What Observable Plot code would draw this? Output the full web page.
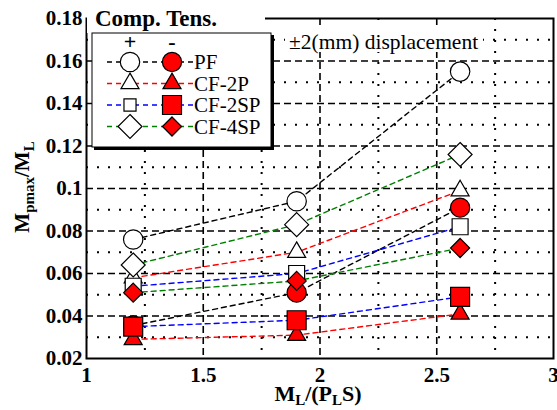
<!DOCTYPE html>
<html>
<head>
<meta charset="utf-8">
<script src="https://cdn.jsdelivr.net/npm/d3@7"></script>
<script src="https://cdn.jsdelivr.net/npm/@observablehq/plot@0.6"></script>
<style>
  body { margin: 0; background: white; }
  svg text, svg tspan { font-family: "Liberation Serif", "Times New Roman", serif !important; }
</style>
</head>
<body>
<div id="chart"></div>
<script>
// ---- data ----
const xVals = [1.2, 1.9, 2.6];
const seriesNames = ["PF", "CF-2P", "CF-2SP", "CF-4SP"];
const compPF    = [0.076, 0.094, 0.155];
const tensPF    = [0.0355, 0.051, 0.091];
const compCF2P  = [0.058, 0.070, 0.099];
const tensCF2P  = [0.029, 0.031, 0.041];
const compCF2SP = [0.054, 0.060, 0.082];
const tensCF2SP = [0.035, 0.038, 0.049];
const compCF4SP = [0.064, 0.083, 0.116];
const tensCF4SP = [0.051, 0.0565, 0.072];
const xTicks = [1, 1.5, 2, 2.5, 3];
const yTicks = [0.02, 0.04, 0.06, 0.08, 0.1, 0.12, 0.14, 0.16, 0.18];
const xMinor = [1.25, 1.75, 2.25, 2.75];
const yMinor = [0.03, 0.05, 0.07, 0.09, 0.11, 0.13, 0.15, 0.17];
const xLabelParts = [["M", false], ["L", true], ["/(P", false], ["L", true], ["S)", false]];
const yLabelParts = [["M", false], ["pmax", true], ["/M", false], ["L", true]];
const legendTitle = "Comp. Tens.";
const annotation = "\u00b12(mm) displacement";

// ---- styles ----
const colors = ["#000000", "#ff0000", "#0000ff", "#008000"];
const symbols = ["circle", "triangle", "square", "diamond2"];
const rComp = [9.7, 6.7, 9.0, 10.8];
const rTens = [9.6, 6.7, 10.7, 8.6];

const compArrays = [compPF, compCF2P, compCF2SP, compCF4SP];
const tensArrays = [tensPF, tensCF2P, tensCF2SP, tensCF4SP];
const rows = [];
seriesNames.forEach((s, i) => {
  xVals.forEach((x, j) => {
    rows.push({series: s, type: "comp", x, y: compArrays[i][j]});
    rows.push({series: s, type: "tens", x, y: tensArrays[i][j]});
  });
});

const dotMarks = [];
seriesNames.forEach((s, i) => {
  dotMarks.push(Plot.dot(rows.filter(d => d.series === s && d.type === "comp"), {
    x: "x", y: "y", symbol: () => symbols[i], r: rComp[i], fill: "white", stroke: "black", strokeWidth: 1.2
  }));
  dotMarks.push(Plot.dot(rows.filter(d => d.series === s && d.type === "tens"), {
    x: "x", y: "y", symbol: () => symbols[i], r: rTens[i], fill: "#ff0000", stroke: "black", strokeWidth: 1.2
  }));
});

const serif = "Liberation Serif";
const svg = Plot.plot({
  width: 557,
  height: 410,
  marginLeft: 86,
  marginRight: 4,
  marginTop: 18,
  marginBottom: 52,
  x: {domain: [1, 3]},
  y: {domain: [0.02, 0.18]},
  color: {domain: seriesNames, range: colors},
  symbol: {type: "identity"},
  style: {fontFamily: serif, background: "white", overflow: "visible"},
  marks: [
    Plot.ruleY(yMinor, {stroke: "black", strokeWidth: 2, strokeDasharray: "2,9"}),
    Plot.ruleX(xMinor, {stroke: "black", strokeWidth: 2, strokeDasharray: "2,9"}),
    Plot.ruleY(yTicks.slice(1, -1), {stroke: "black", strokeWidth: 1.6, strokeDasharray: "7,4"}),
    Plot.ruleX(xTicks.slice(1, -1), {stroke: "black", strokeWidth: 1.6, strokeDasharray: "7,4"}),
    Plot.line(rows, {x: "x", y: "y", z: d => d.series + d.type, stroke: "series", strokeWidth: 1.4, strokeDasharray: "5,4"}),
    ...dotMarks,
    Plot.frame({stroke: "black", strokeWidth: 2}),
    Plot.axisX(xTicks, {tickSize: 0, tickPadding: 9, fontSize: 21, fontWeight: "bold", fontFamily: serif, label: null, tickFormat: d => String(d)}),
    Plot.axisY(yTicks, {tickSize: 0, tickPadding: 4, fontSize: 21, fontWeight: "bold", fontFamily: serif, label: null, tickFormat: d => String(d)})
  ]
});

const root = d3.select(svg);

// axis titles
const xt = root.append("text").attr("x", 318).attr("y", 401).attr("text-anchor", "middle")
  .attr("font-size", 22).attr("font-weight", "bold").attr("fill", "black");
xLabelParts.forEach(([t, sub], k) => {
  const prevSub = k > 0 && xLabelParts[k - 1][1];
  xt.append("tspan").text(t).attr("font-size", sub ? 15 : 22)
    .attr("dy", sub ? 4 : (prevSub ? -4 : 0));
});
const yt = root.append("text").attr("transform", "translate(29,187) rotate(-90)").attr("text-anchor", "middle")
  .attr("font-size", 21).attr("font-weight", "bold").attr("fill", "black");
yLabelParts.forEach(([t, sub], k) => {
  const prevSub = k > 0 && yLabelParts[k - 1][1];
  yt.append("tspan").text(t).attr("font-size", sub ? 15 : 21)
    .attr("dy", sub ? 5 : (prevSub ? -5 : 0));
});

// annotation with white background
root.append("rect").attr("x", 285).attr("y", 29).attr("width", 198).attr("height", 23).attr("fill", "white");
root.append("text").attr("x", 289).attr("y", 49).attr("text-anchor", "start").attr("font-size", 21.5).attr("fill", "black").text(annotation);

// legend
const lg = root.append("g");
lg.append("rect").attr("x", 87).attr("y", 6).attr("width", 178).attr("height", 27).attr("fill", "white");
lg.append("rect").attr("x", 94).attr("y", 35).attr("width", 180).attr("height", 115).attr("fill", "black");
lg.append("rect").attr("x", 92).attr("y", 33).attr("width", 179).attr("height", 114).attr("fill", "white").attr("stroke", "black").attr("stroke-width", 1);
lg.append("text").attr("x", 95).attr("y", 26).attr("text-anchor", "start").attr("font-size", 23).attr("font-weight", "bold").attr("fill", "black").text(legendTitle);
lg.append("text").attr("x", 130).attr("y", 49).attr("text-anchor", "middle").attr("font-size", 22).attr("font-weight", "bold").text("+");
lg.append("text").attr("x", 172).attr("y", 49).attr("text-anchor", "middle").attr("font-size", 22).attr("font-weight", "bold").text("-");
const legendSymbols = [d3.symbolCircle, d3.symbolTriangle, d3.symbolSquare, d3.symbolDiamond2];
const rLegComp = [9.7, 6.7, 6.8, 10.8];
seriesNames.forEach((s, i) => {
  const yy = 62 + i * 21.5;
  lg.append("line").attr("x1", 107).attr("x2", 193).attr("y1", yy).attr("y2", yy)
    .attr("stroke", colors[i]).attr("stroke-width", 1.4).attr("stroke-dasharray", "5,4");
  lg.append("path").attr("transform", `translate(130,${yy})`)
    .attr("d", d3.symbol(legendSymbols[i], Math.PI * rLegComp[i] ** 2)())
    .attr("fill", "white").attr("stroke", "black").attr("stroke-width", 1.2);
  lg.append("path").attr("transform", `translate(172,${yy})`)
    .attr("d", d3.symbol(legendSymbols[i], Math.PI * rTens[i] ** 2)())
    .attr("fill", "#ff0000").attr("stroke", "black").attr("stroke-width", 1.2);
  lg.append("text").attr("x", 194).attr("y", yy + 7).attr("text-anchor", "start").attr("font-size", 21).attr("fill", "black").text(s);
});

document.getElementById("chart").appendChild(svg);
</script>
</body>
</html>
